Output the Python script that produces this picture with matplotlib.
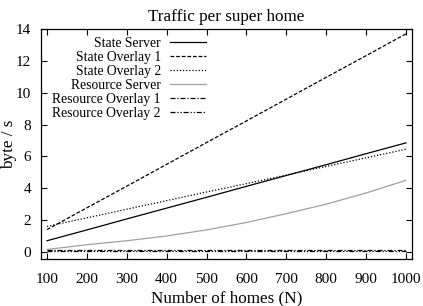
import matplotlib
matplotlib.use("Agg")
import matplotlib.pyplot as plt

homes = [100, 200, 300, 400, 500, 600, 700, 800, 900, 1000]
state_server = [0.7, 1.38, 2.07, 2.75, 3.43, 4.12, 4.8, 5.48, 6.17, 6.85]
state_overlay1 = [1.4, 2.77, 4.13, 5.5, 6.87, 8.23, 9.6, 10.97, 12.33, 13.7]
state_overlay2 = [1.6, 2.14, 2.68, 3.22, 3.76, 4.29, 4.83, 5.37, 5.91, 6.45]
resource_server = [0.15, 0.45, 0.7, 1.0, 1.38, 1.85, 2.4, 3.0, 3.7, 4.5]
resource_overlay1 = [0.1, 0.1, 0.1, 0.1, 0.1, 0.1, 0.1, 0.1, 0.1, 0.1]
resource_overlay2 = [0.08, 0.08, 0.08, 0.08, 0.08, 0.08, 0.08, 0.08, 0.08, 0.08]
xticks = [100, 200, 300, 400, 500, 600, 700, 800, 900, 1000]
yticks = [0, 2, 4, 6, 8, 10, 12, 14]

plt.rcParams['font.family'] = ['Liberation Serif', 'DejaVu Serif']

fig = plt.figure(figsize=(4.23, 3.06), dpi=100)
ax = fig.add_axes([0.097, 0.154, 0.877, 0.751])

lw = 0.9
ax.plot(homes, state_server, color='black', lw=lw, ls='-', label='State Server')
ax.plot(homes, state_overlay1, color='black', lw=lw, ls=(0, (3, 1.5)), label='State Overlay 1')
ax.plot(homes, state_overlay2, color='black', lw=lw, ls=(0, (1, 1.5)), label='State Overlay 2')
ax.plot(homes, resource_server, color='#a0a0a0', lw=lw, ls='-', label='Resource Server')
ax.plot(homes, resource_overlay1, color='black', lw=lw, ls=(0, (4, 1.5, 1, 1.5)), label='Resource Overlay 1')
ax.plot(homes, resource_overlay2, color='black', lw=lw, ls=(0, (4, 1.5, 1, 1.5, 1, 1.5)), label='Resource Overlay 2')

ax.set_xlim(85, 1015)
ax.set_ylim(-0.44, 14)
ax.set_xticks(xticks)
ax.set_yticks(yticks)
ax.tick_params(direction='in', top=True, right=True, labelsize=11, length=4, width=0.8)
ax.tick_params(axis='x', pad=10)
ax.tick_params(axis='y', pad=7)
for s in ax.spines.values():
    s.set_linewidth(0.9)

ax.set_title('Traffic per super home', fontsize=12.3, pad=6)
ax.set_xlabel('Number of homes (N)', fontsize=12.3, labelpad=3)
ax.set_ylabel('byte / s', fontsize=12.3)
ax.yaxis.set_label_coords(-0.066, 0.5)

leg = ax.legend(loc='upper left', bbox_to_anchor=(0.005, 1.008), frameon=False, markerfirst=False,
                fontsize=9.8, handlelength=2.6, handletextpad=0.7, labelspacing=0.08, borderaxespad=0.3)
for col in leg._legend_box.get_children()[1].get_children():
    col.align = 'right'

fig.savefig('out.png', dpi=100)
